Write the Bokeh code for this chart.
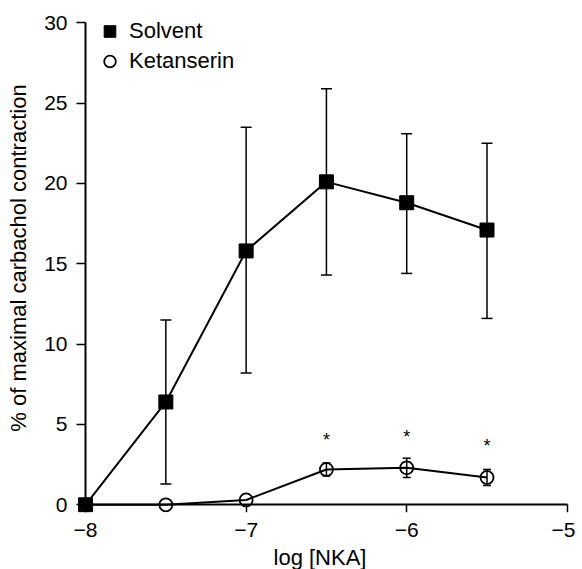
from bokeh.plotting import figure
from bokeh.models import (Range1d, FixedTicker, Legend, LegendItem, Whisker,
                          ColumnDataSource, TeeHead, LinearAxis)
from bokeh.core.properties import value
from bokeh.embed import file_html
from bokeh.resources import INLINE

# ---- data ----
log_nka = [-8, -7.5, -7, -6.5, -6, -5.5]
solvent_mean = [0, 6.4, 15.8, 20.1, 18.8, 17.1]
solvent_upper = [0, 11.5, 23.5, 25.9, 23.1, 22.5]
solvent_lower = [0, 1.3, 8.2, 14.3, 14.4, 11.6]
ket_mean = [0, 0, 0.3, 2.2, 2.3, 1.7]
ket_upper = [0, 0, 0.3, 2.6, 2.9, 2.2]
ket_lower = [0, 0, 0.3, 1.8, 1.7, 1.2]
star_x = [-6.5, -6, -5.5]
star_y = [4.05, 4.25, 3.65]
x_ticks = [-8, -7, -6, -5]
x_tick_labels = ["\u22128", "\u22127", "\u22126", "\u22125"]
y_ticks = [0, 5, 10, 15, 20, 25, 30]
x_axis_span = (-8, -5)
y_axis_span = (0, 30)

FONT = "Liberation Sans"

p = figure(frame_width=501, frame_height=509,
           x_range=Range1d(-8.1, -4.98), y_range=Range1d(-0.48, 31.2),
           output_backend="svg", toolbar_location=None,
           min_border_left=69, min_border_right=5, min_border_top=3,
           min_border_bottom=57)
p.outline_line_color = None
p.grid.visible = False
p.background_fill_color = "white"

# label-only axes at the frame edges
xl, yl = p.xaxis[0], p.yaxis[0]
xl.ticker = FixedTicker(ticks=x_ticks)
yl.ticker = FixedTicker(ticks=y_ticks)
xl.major_label_overrides = {t: l for t, l in zip(x_ticks, x_tick_labels)}
for ax in (xl, yl):
    ax.axis_line_color = None
    ax.major_tick_line_color = None
    ax.minor_tick_line_color = None
    ax.major_tick_in = 0
    ax.major_tick_out = 0
    ax.major_label_text_font = FONT
    ax.major_label_text_font_size = "21px"
    ax.major_label_text_color = "black"
    ax.axis_label_text_font = FONT
    ax.axis_label_text_font_size = "22px"
    ax.axis_label_text_font_style = "normal"
    ax.axis_label_text_color = "black"
xl.major_label_standoff = 10
xl.axis_label = "log [NKA]"
xl.axis_label_standoff = 5
yl.major_label_standoff = 2
yl.axis_label = "% of maximal carbachol contraction"
yl.axis_label_standoff = 10

# axis lines and ticks drawn at x=-8 / y=0 (no tick labels of their own)
common = dict(major_label_text_color=None, major_label_text_font_size="1px",
              major_label_standoff=0, axis_line_width=2,
              major_tick_line_width=1.5, minor_tick_line_color=None)
xa = LinearAxis(fixed_location=0, ticker=FixedTicker(ticks=x_ticks),
                bounds=x_axis_span, major_tick_in=8, major_tick_out=0, **common)
ya = LinearAxis(fixed_location=-8, ticker=FixedTicker(ticks=y_ticks),
                bounds=y_axis_span, major_tick_in=9, major_tick_out=0, **common)
p.add_layout(xa, "above")
p.add_layout(ya, "right")

# data sources
src_s = ColumnDataSource(dict(x=log_nka, y=solvent_mean))
src_k = ColumnDataSource(dict(x=log_nka, y=ket_mean))
err_s = ColumnDataSource(dict(x=log_nka[1:], up=solvent_upper[1:], lo=solvent_lower[1:]))
err_k = ColumnDataSource(dict(x=log_nka[3:], up=ket_upper[3:], lo=ket_lower[3:]))

# lines
p.line("x", "y", source=src_s, line_color="black", line_width=2)
p.line("x", "y", source=src_k, line_color="black", line_width=2)

# error bars
for src, hs in ((err_s, 11), (err_k, 8)):
    w = Whisker(source=src, base="x", upper="up", lower="lo",
                line_color="black", line_width=1.5,
                upper_head=TeeHead(size=hs, line_color="black", line_width=1.5),
                lower_head=TeeHead(size=hs, line_color="black", line_width=1.5))
    p.add_layout(w)

# markers
r_k = p.scatter("x", "y", source=src_k, marker="circle", size=13,
                fill_color=None, line_color="black", line_width=1.8)
r_s = p.scatter("x", "y", source=src_s, marker="square", size=14,
                fill_color="black", line_color="black")

# significance stars
p.text(x=star_x, y=star_y, text=["*"] * len(star_x), text_align="center",
       text_baseline="middle", text_font=value(FONT), text_font_size="18px",
       text_color="black")

legend = Legend(items=[LegendItem(label="Solvent", renderers=[r_s]),
                       LegendItem(label="Ketanserin", renderers=[r_k])],
                location=(26, 436), orientation="vertical",
                glyph_width=29, glyph_height=30, label_height=30,
                spacing=0, padding=0, margin=0, label_standoff=5,
                border_line_color=None, background_fill_alpha=0,
                label_text_font=FONT, label_text_font_size="22px",
                label_text_color="black")
p.add_layout(legend)

open("out.html", "w").write(file_html(p, INLINE))
